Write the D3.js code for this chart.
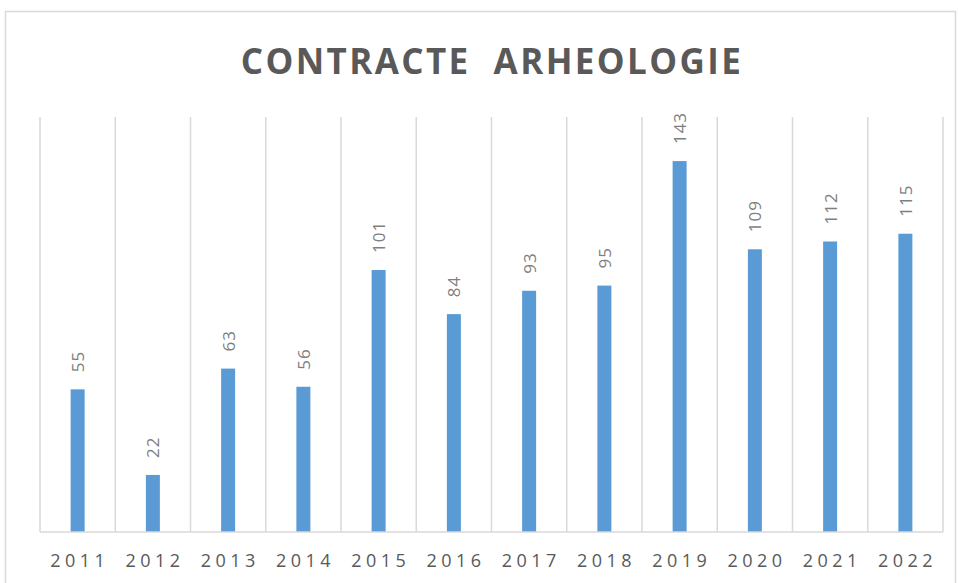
<!DOCTYPE html>
<html><head><meta charset="utf-8">
<script src="https://cdn.jsdelivr.net/npm/d3@7"></script>
<style>body{margin:0;background:#fff}svg{display:block}</style>
</head><body>
<script>
const categories = ["2011","2012","2013","2014","2015","2016","2017","2018","2019","2020","2021","2022"];
const values = [55,22,63,56,101,84,93,95,143,109,112,115];
const title = "CONTRACTE  ARHEOLOGIE";

const W = 958, H = 583;
const svg = d3.select("body").append("svg").attr("width", W).attr("height", H);
svg.append("rect").attr("x", 5.5).attr("y", 11.5).attr("width", 950).attr("height", 600)
  .attr("fill", "#fff").attr("stroke", "#d9d9d9").attr("stroke-width", 1.5);

const m = {left: 40, right: 943, top: 117, bottom: 532};
const x = d3.scaleBand().domain(categories).range([m.left, m.right]).paddingInner(0).paddingOuter(0);
const y = d3.scaleLinear().domain([0, 160]).range([m.bottom, m.top]);

const bounds = categories.map(c => x(c)).concat([m.right]);
svg.append("g").selectAll("line").data(bounds).join("line")
  .attr("x1", d => d).attr("x2", d => d).attr("y1", m.top).attr("y2", m.bottom)
  .attr("stroke", "#d9d9d9").attr("stroke-width", 1.5);

const bw = 14;
svg.append("g").selectAll("rect").data(values).join("rect")
  .attr("x", (d, i) => x(categories[i]) + x.bandwidth() / 2 - bw / 2)
  .attr("width", bw)
  .attr("y", d => y(d))
  .attr("height", d => y(0) - y(d))
  .attr("fill", "#5b9bd5");

svg.append("line").attr("x1", m.left).attr("x2", m.right).attr("y1", m.bottom).attr("y2", m.bottom)
  .attr("stroke", "#d9d9d9").attr("stroke-width", 1.5);

const xAxis = d3.axisBottom(x).tickSize(0).tickPadding(0);
const gx = svg.append("g").attr("transform", `translate(0,${m.bottom})`).call(xAxis);
gx.select(".domain").remove();
gx.selectAll("text").attr("dy", null).attr("y", 0)
  .attr("transform", "translate(2.2,35)")
  .attr("font-family", "'Open Sans', sans-serif").attr("font-size", 18)
  .attr("letter-spacing", "4.5px").attr("fill", "#595959");

svg.append("g").selectAll("text").data(values).join("text")
  .attr("transform", (d, i) => `translate(${x(categories[i]) + x.bandwidth() / 2 + 6.5},${y(d) - 17}) rotate(-90)`)
  .attr("text-anchor", "start")
  .attr("font-family", "'Open Sans', sans-serif").attr("font-size", 17)
  .attr("letter-spacing", "1px")
  .attr("fill", "#7f7f7f")
  .text(d => d);

svg.append("text").attr("x", 492).attr("y", 74).attr("text-anchor", "middle")
  .attr("font-family", "'Open Sans', sans-serif").attr("font-weight", "bold")
  .attr("font-size", 35).attr("letter-spacing", "2.4px").attr("fill", "#595959")
  .attr("xml:space", "preserve").style("white-space", "pre")
  .text(title);
</script>
</body></html>
